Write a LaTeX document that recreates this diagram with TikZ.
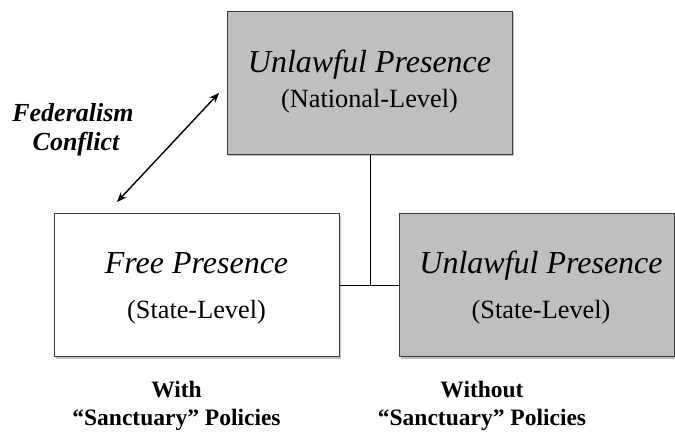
\documentclass[tikz,border=0pt]{standalone}
\usepackage{fontspec}
\setmainfont{Liberation Serif}
\usetikzlibrary{shadows,arrows.meta}
\definecolor{boxgray}{HTML}{BFBFBF}
\definecolor{edgegray}{HTML}{3A3A3A}
\begin{document}
\begin{tikzpicture}[x=1pt,y=-1pt,
  box/.style={draw=edgegray, line width=1.4pt, inner sep=0pt, anchor=north west,
    minimum height=143pt,
    drop shadow={shadow xshift=1.6pt, shadow yshift=-1.8pt, opacity=0.35, fill=black!70}},
  titletext/.style={anchor=base, inner sep=0pt, font=\fontsize{32}{38}\selectfont\itshape},
  subtext/.style={anchor=base, inner sep=0pt, font=\fontsize{26.3}{31}\selectfont},
  fedtext/.style={anchor=base, inner sep=0pt, font=\fontsize{26}{31}\selectfont\bfseries\itshape},
  captext/.style={anchor=base, inner sep=0pt, font=\fontsize{23.5}{28}\selectfont\bfseries},
  conn/.style={draw=black, line width=1.1pt},
  dblarrow/.style={draw=black, line width=1.4pt,
    {Stealth[length=10pt,width=8pt]}-{Stealth[length=10pt,width=8pt]}}
]
\useasboundingbox (0,0) rectangle (675,434);

% boxes
\node[box, fill=boxgray, minimum width=285pt] (natl) at (227,10.5) {};
\node[box, fill=white, minimum width=285pt] (free) at (54,213) {};
\node[box, fill=boxgray, minimum width=275pt] (unst) at (399,213) {};

% connectors between the boxes
\draw[conn] (natl.south) -- (natl.south |- free.east);
\draw[conn] (free.east) -- (unst.west);

% box texts
\node[titletext] (natlT) at (369.5,72) {Unlawful Presence};
\node[subtext] (natlS) at (369.5,107) {(National-Level)};
\node[titletext] (freeT) at (196.5,273) {Free Presence};
\node[subtext] (freeS) at (196.5,318) {(State-Level)};
\node[titletext] (unstT) at (541,273) {Unlawful Presence};
\node[subtext] (unstS) at (541,318) {(State-Level)};

% federalism conflict
\node[fedtext] (fedA) at (73,121) {Federalism};
\node[fedtext] (fedB) at (76,150) {Conflict};
\coordinate (arrLow) at (117,202);
\coordinate (arrHigh) at (219,93);
\draw[dblarrow] (arrLow) -- (arrHigh);

% captions
\node[captext] (withA) at (176.5,397) {With};
\node[captext] (withB) at (176.5,425) {“Sanctuary” Policies};
\node[captext] (woA) at (482,397) {Without};
\node[captext] (woB) at (482,425) {“Sanctuary” Policies};
\end{tikzpicture}
\end{document}
